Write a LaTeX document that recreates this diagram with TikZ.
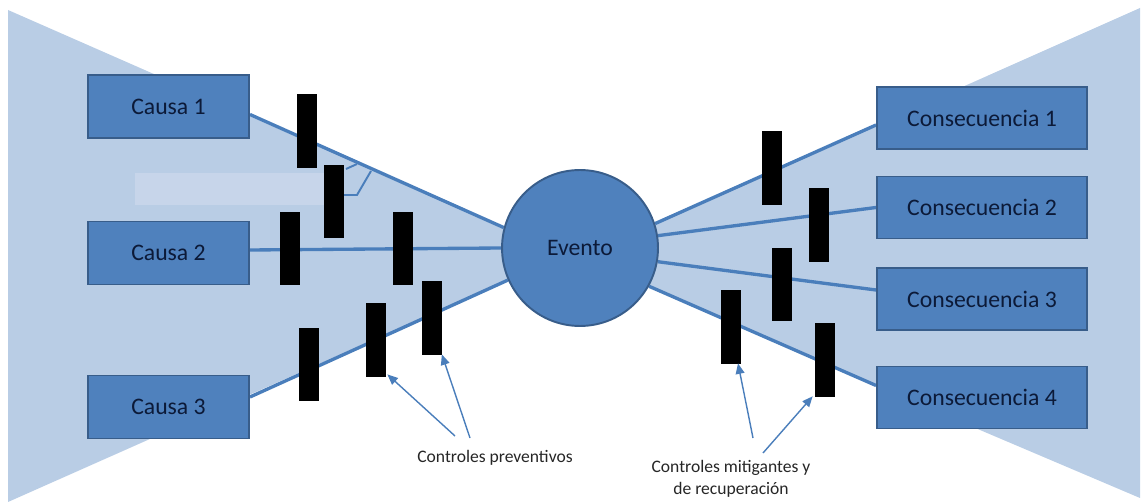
\documentclass[tikz,border=0pt]{standalone}
\usepackage{fontspec}
\setmainfont{Carlito}
\usetikzlibrary{arrows.meta,calc}
\definecolor{fillL}{RGB}{185,205,229}
\definecolor{boxF}{RGB}{79,129,189}
\definecolor{boxD}{RGB}{56,93,138}
\definecolor{txtB}{RGB}{12,26,56}
\definecolor{lineB}{RGB}{74,126,187}
\definecolor{rectL}{RGB}{199,213,234}
\pgfdeclarelayer{bg}
\pgfdeclarelayer{links}
\pgfsetlayers{bg,links,main}
\begin{document}
\begin{tikzpicture}[x=0.02cm,y=-0.02cm,
 box/.style={draw=boxD,line width=1.1pt,fill=boxF,text=txtB,font=\fontsize{13.5}{16}\selectfont,inner sep=0pt},
 cbox/.style={box,minimum width=3.22cm,minimum height=1.26cm},
 kbox/.style={box,minimum width=4.2cm,minimum height=1.24cm},
 evt/.style={box,circle,minimum size=3.12cm},
 bar/.style={fill=black,draw=none,minimum width=0.4cm,minimum height=1.48cm,inner sep=0pt},
 link/.style={draw=lineB,line width=1.9pt},
 pointer/.style={draw=lineB,line width=0.8pt,-{Triangle[length=6pt,width=5pt]}},
 note/.style={text=black!85,font=\fontsize{10}{12.5}\selectfont,align=center},
 tagmark/.style={draw=lineB,line width=1.1pt}]

\useasboundingbox (0,0) rectangle (1145,502);

% nodes
\node[evt] (ev) at (580,248) {Evento};
\node[cbox] (c1) at (168.5,106.5) {Causa 1};
\node[cbox] (c2) at (168.5,253) {Causa 2};
\node[cbox] (c3) at (168.5,407) {Causa 3};
\node[kbox] (k1) at (982,118) {Consecuencia 1};
\node[kbox] (k2) at (982,207.5) {Consecuencia 2};
\node[kbox] (k3) at (982,299) {Consecuencia 3};
\node[kbox] (k4) at (982,397.5) {Consecuencia 4};

% background funnels
\begin{pgfonlayer}{bg}
\fill[fillL] (8,10) -- (ev.165) -- (ev.center) -- (ev.204) -- (8,502) -- cycle;
\fill[fillL] (1140,8) -- (ev.18) -- (ev.center) -- (ev.331) -- (900,396) -- (1140,498) -- cycle;
\fill[rectL] (135,173) rectangle (333,205);
\end{pgfonlayer}

% connectors
\begin{pgfonlayer}{links}
\draw[link] ($(c1.east)+(0,8)$) -- (ev.165);
\draw[link] ($(c2.east)+(0,-3)$) -- (ev.west);
\draw[link] ($(c3.east)+(0,-10)$) -- (ev.204);
\draw[link] (ev.18) -- ($(k1.west)+(0,7)$);
\draw[link] (ev.9) -- (k2.west);
\draw[link] (ev.350) -- ($(k3.west)+(0,-9)$);
\draw[link] (ev.331) -- ($(k4.west)+(0,-12)$);
% small leftover mark
\draw[tagmark] (343,195) -- (357,195) -- (371,171);
\draw[tagmark] (346,169) -- (357,164);
\end{pgfonlayer}

% control bars
\node[bar] (b1) at (307,131) {};
\node[bar] (b2) at (334,201.5) {};
\node[bar] (b3) at (290,248.5) {};
\node[bar] (b4) at (403,248.5) {};
\node[bar] (b5) at (431.5,318) {};
\node[bar] (b6) at (376,340) {};
\node[bar] (b7) at (308.5,364.5) {};
\node[bar] (r1) at (772,168) {};
\node[bar] (r2) at (819,225) {};
\node[bar] (r3) at (782,284.5) {};
\node[bar] (r4) at (731,327) {};
\node[bar] (r5) at (825,360) {};

% labels
\node[note] (lp) at (495,458) {Controles preventivos};
\node[note] (lm) at (731,479) {Controles mitigantes y\\de recuperación};

\coordinate (p1) at (455,436);
\coordinate (p2) at (470,438);
\coordinate (m1) at (753,438);
\coordinate (m2) at (763,453);
\draw[pointer] (p1) -- ($(b6.south east)+(1,-3)$);
\draw[pointer] (p2) -- ($(b5.south east)+(0,-1)$);
\draw[pointer] (m1) -- ($(r4.south)+(7,-1)$);
\draw[pointer] (m2) -- ($(r5.south west)+(-2,-1)$);
\end{tikzpicture}
\end{document}
